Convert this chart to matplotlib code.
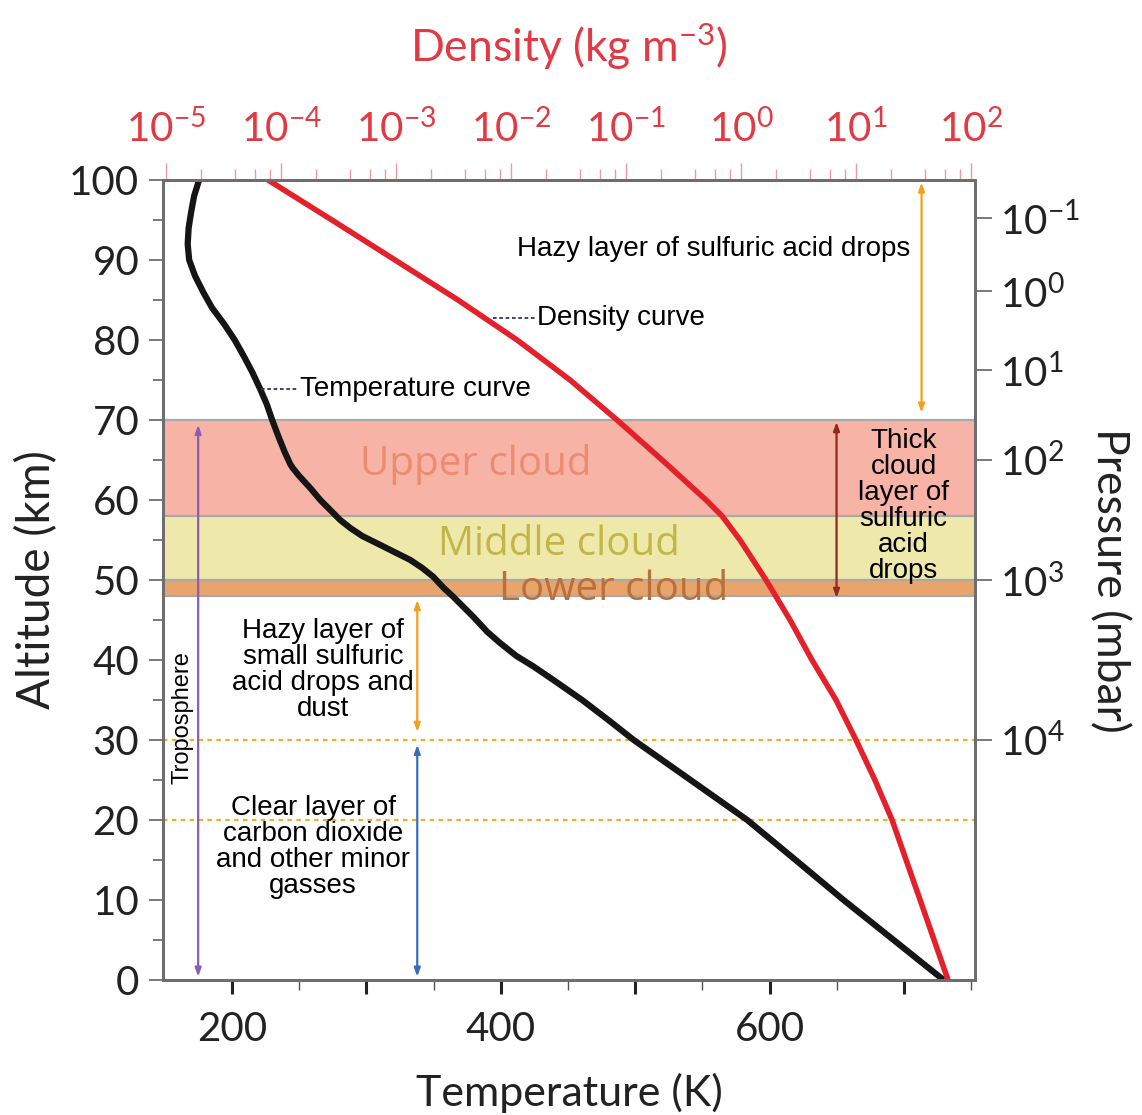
import numpy as np
import matplotlib
matplotlib.use("Agg")
import matplotlib.pyplot as plt
from matplotlib.ticker import FixedLocator, NullFormatter

# temperature profile (altitude km -> K)
temp_alt = [100, 98, 96, 94, 92, 90, 88, 86, 84, 82, 80, 78, 76, 74, 72, 70,
            68, 66, 64.5, 64, 63, 61.5, 60, 58.75, 57.5, 56.5, 55.5, 54.5,
            53.5, 52.5, 51.5, 50.4, 49, 47.9, 45.4, 43.5, 42.1, 40.5, 39.2,
            37.5, 35, 32.5, 30, 25, 20, 15, 10, 5, 0]
temp_K = [175.4, 171.7, 169.5, 167.6, 166.9, 168.0, 172.4, 178.4, 185.1,
          194.0, 201.9, 208.6, 214.9, 220.5, 225.7, 229.8, 234.3, 239.1,
          243.2, 245.1, 249.9, 258.1, 265.6, 273.0, 280.4, 287.9, 296.8,
          308.8, 320.7, 332.6, 341.5, 349.7, 357.5, 364.6, 379.5, 390.0,
          399.6, 411.6, 424.2, 439.1, 460.5, 480.0, 498.9, 541.2, 583.4,
          619.4, 655.1, 692.4, 729.6]

# density profile (altitude km -> kg m^-3)
dens_alt = [100, 95, 90, 85, 80, 75, 70, 65, 60, 58, 55, 50, 45, 40, 35, 30,
            25, 20, 10, 0]
dens_val = [7.71e-5, 2.77e-4, 9.80e-4, 3.46e-3, 1.13e-2, 3.26e-2, 8.36e-2,
            0.206, 0.497, 0.684, 0.98, 1.65, 2.67, 4.14, 6.70, 10.0, 14.6,
            20.6, 36.1, 63.1]

# density axis ticks
dens_major = [1e-5, 1e-4, 1e-3, 1e-2, 1e-1, 1e0, 1e1, 1e2]
dens_major_exp = [-5, -4, -3, -2, -1, 0, 1, 2]

# pressure axis: altitude of each label
pres_alt = [95.2, 86.1, 76.2, 65.0, 49.95, 30]
pres_exp = [-1, 0, 1, 2, 3, 4]

# cloud layers
cloud_names = ["Upper cloud", "Middle cloud", "Lower cloud"]
cloud_bottom = [58, 50, 48]
cloud_top = [70, 58, 50]
cloud_colors = ["#F6B3A6", "#EEE8AA", "#E9A46C"]
cloud_text_colors = ["#EE8A6E", "#C3B548", "#B8703E"]
cloud_text_pos = [(381, 64.4), (443, 54.4), (484, 48.75)]

plt.rcParams['font.family'] = ['Lato', 'DejaVu Sans']
plt.rcParams['mathtext.fontset'] = 'custom'
plt.rcParams['mathtext.rm'] = 'Lato'
plt.rcParams['mathtext.default'] = 'regular'
plt.rcParams['text.color'] = '#222222'
plt.rcParams['axes.labelcolor'] = '#222222'

AXC = '#6E6E6E'
RED = '#E23A44'
ANN = 'Liberation Sans'
FS = 20

fig = plt.figure(figsize=(11.42, 11.15), dpi=100)
ax = fig.add_axes([0.1427, 0.1211, 0.7111, 0.7175])

for b, t, c in zip(cloud_bottom, cloud_top, cloud_colors):
    ax.axhspan(b, t, color=c, lw=0, zorder=0)
for h in [70, 58, 50, 48]:
    ax.axhline(h, color='#A9A9A9', lw=1.6, zorder=1)
for name, c, (x, y) in zip(cloud_names, cloud_text_colors, cloud_text_pos):
    ax.text(x, y, name, color=c, fontsize=29, ha='center', va='center',
            family='Open Sans', zorder=2)

for h in [30, 20]:
    ax.axhline(h, color='#F0B020', lw=1.6, ls=(0, (2, 2)), zorder=2)

ax.plot(temp_K, temp_alt, color='#151515', lw=4.5, zorder=5,
        solid_capstyle='butt', solid_joinstyle='round')

ax.set_xlim(148.5, 753)
ax.set_ylim(0, 100)
ax.set_xticks([200, 300, 400, 500, 600, 700])
ax.set_xticklabels(['200', '', '400', '', '600', ''])
ax.xaxis.set_minor_locator(FixedLocator([250, 350, 450, 550, 650, 750]))
ax.set_yticks(range(0, 101, 10))
ax.yaxis.set_minor_locator(FixedLocator(range(5, 100, 10)))
ax.tick_params(axis='x', which='major', direction='out', length=10, width=2.2,
               color='#222222', labelsize=29, labelcolor='#222222', pad=12)
ax.tick_params(axis='x', which='minor', direction='out', length=7, width=1,
               color='#555555')
ax.tick_params(axis='y', which='major', direction='out', length=10, width=1.3,
               color=AXC, labelsize=29, labelcolor='#222222', pad=7)
ax.tick_params(axis='y', which='minor', direction='out', length=7, width=1.3,
               color=AXC)
ax.set_xlabel('Temperature (K)', fontsize=31, labelpad=18)
ax.set_ylabel('Altitude (km)', fontsize=33, labelpad=8)
for s in ax.spines.values():
    s.set_color(AXC)
    s.set_linewidth(2)

# density on top axis
ax2 = ax.twiny()
ax2.set_xscale('log')
ax2.set_xlim(10 ** -5.026, 10 ** 2.035)
ax2.plot(dens_val, dens_alt, color='#E4202A', lw=4, zorder=4,
         solid_joinstyle='round')
ax2.xaxis.set_major_locator(FixedLocator(dens_major))
ax2.set_xticklabels([f'$10^{{{e}}}$' for e in dens_major_exp])
ax2.xaxis.set_minor_locator(FixedLocator(
    [m * d for d in dens_major[:-1] for m in (2, 4, 6, 8)]))
ax2.xaxis.set_minor_formatter(NullFormatter())
ax2.tick_params(axis='x', which='major', direction='out', length=12, width=1,
                color='#EC9AA0', labelcolor=RED, labelsize=29, pad=10)
ax2.tick_params(axis='x', which='minor', direction='out', length=8, width=1,
                color='#EC9AA0')
ax2.set_xlabel('Density (kg m$^{-3}$)', color=RED, fontsize=32, labelpad=34)
for s in ax2.spines.values():
    s.set_color(AXC)
    s.set_linewidth(2)

# pressure on right axis
ax3 = ax.twinx()
ax3.set_ylim(0, 100)
ax3.set_yticks(pres_alt)
ax3.set_yticklabels([f'$10^{{{e}}}$' for e in pres_exp])
ax3.tick_params(axis='y', direction='out', length=12, width=1.3, color=AXC,
                labelsize=29, labelcolor='#222222', pad=6)
ax3.set_ylabel('Pressure (mbar)', fontsize=32, rotation=-90, labelpad=36)
for s in ax3.spines.values():
    s.set_color(AXC)
    s.set_linewidth(2)


def darrow(x, y0, y1, color):
    ax.annotate('', xy=(x, y1), xytext=(x, y0),
                arrowprops=dict(arrowstyle='<|-|>,head_length=0.5,head_width=0.18',
                                color=color, lw=1.6, shrinkA=0, shrinkB=0),
                zorder=6)


darrow(713.2, 70.9, 99.7, '#F2A11E')
darrow(649.9, 47.75, 69.75, '#8E2B1C')
darrow(174.7, 0.4, 69.4, '#8D5CB4')
darrow(337.8, 31, 47.5, '#F2A11E')
darrow(337.8, 0.4, 29.4, '#3A6CB8')

# curve labels with dashed leaders
ax.plot([221.6, 249.2], [73.9, 73.9], color='#3C2A62', lw=1.3, ls=(0, (2, 1.5)), zorder=6)
ax.text(250.4, 73.9, 'Temperature curve', fontsize=FS, family=ANN, va='center',
        color='black')
ax.plot([394.4, 425.7], [82.7, 82.7], color='#3C2A62', lw=1.3, ls=(0, (2, 1.5)), zorder=6)
ax.text(427, 82.7, 'Density curve', fontsize=FS, family=ANN, va='center',
        color='black')

ann_kw = dict(fontsize=FS, family=ANN, ha='center', va='center',
              linespacing=1.0, color='black')
ax.text(558.3, 91.4, 'Hazy layer of sulfuric acid drops', **ann_kw)
ax.text(699.8, 59.2, 'Thick\ncloud\nlayer of\nsulfuric\nacid\ndrops', **ann_kw)
ax.text(267.8, 38.75, 'Hazy layer of\nsmall sulfuric\nacid drops and\ndust', **ann_kw)
ax.text(260.3, 16.6, 'Clear layer of\ncarbon dioxide\nand other minor\ngasses', **ann_kw)
ax.text(162.8, 32.75, 'Troposphere', fontsize=17, family=ANN, rotation=90,
        ha='center', va='center', color='black')

fig.savefig('out.png', dpi=100)
